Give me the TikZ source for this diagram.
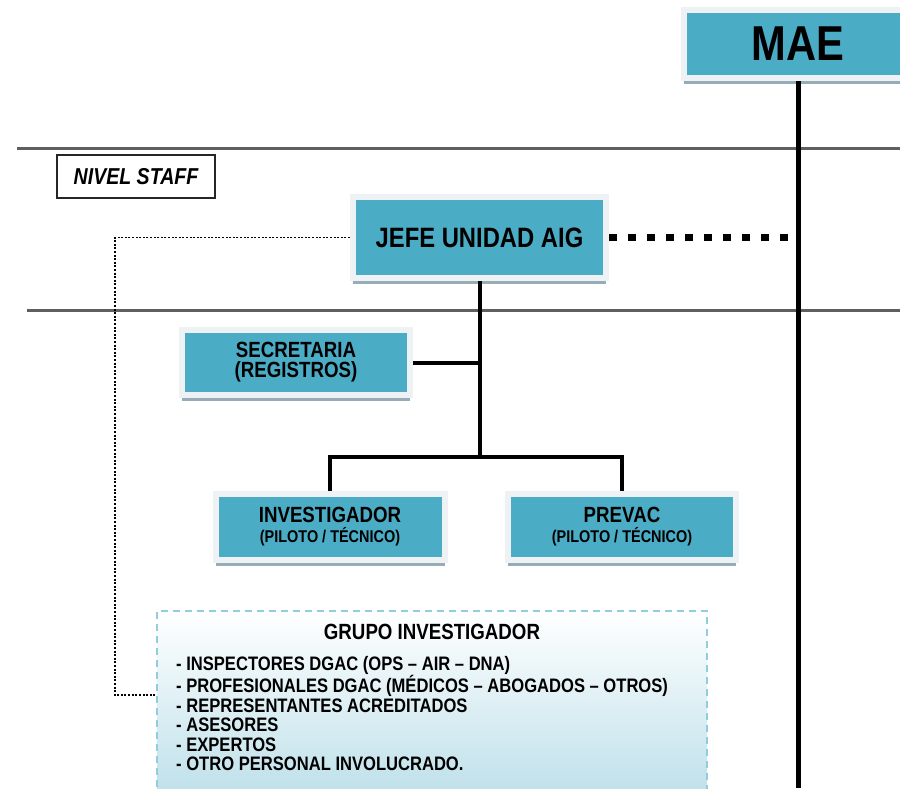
\documentclass[tikz,border=0pt]{standalone}
\usepackage{fontspec}
\setmainfont{Liberation Sans}[FakeStretch=0.85]
\usepackage{tikz}
\usetikzlibrary{shadows}

\definecolor{aigblue}{RGB}{75,172,198}
\definecolor{aigframe}{RGB}{238,242,244}
\definecolor{aigshadow}{RGB}{150,172,182}
\definecolor{grupoborde}{RGB}{146,205,222}
\definecolor{grupofondo}{RGB}{178,218,230}
\definecolor{nivelgris}{RGB}{95,95,95}

\begin{document}
\begin{tikzpicture}[x=1pt, y=-1pt,
    cargo/.style={fill=aigblue, draw=aigframe, line width=6pt, inner sep=0pt, align=center,
        drop shadow={shadow xshift=0pt, shadow yshift=-6pt, fill=aigshadow, opacity=1}},
    nivel/.style={draw=nivelgris, line width=3pt},
    mando/.style={line width=5pt},
    rama/.style={line width=4pt},
    asesoria/.style={line width=7pt, dash pattern=on 8pt off 11pt},
    staff/.style={line width=1.8pt, dash pattern=on 2pt off 1.6pt},
    lista/.style={align=left, inner sep=0pt, font=\fontsize{19.5}{19.5}\selectfont\bfseries}]
    \useasboundingbox (0,0) rectangle (900,788);
    % niveles
    \draw [nivel] (17,148) -- (900,148);
    \draw [nivel] (27,310) -- (900,310);
    \node [draw=black!85, line width=2pt, minimum width=158pt, minimum height=43pt, font=\fontsize{23}{24}\selectfont\bfseries\itshape] (nivelstaff) at (136,176.5) {NIVEL STAFF};
    % cargos
    \node [cargo, minimum width=228pt, minimum height=68pt, font=\fontsize{49}{50}\selectfont\bfseries] (mae) at (798,44) {MAE};
    \node [cargo, minimum width=253pt, minimum height=81pt, font=\fontsize{28}{30}\selectfont\bfseries] (jefe) at (479.5,237.5) {JEFE UNIDAD AIG};
    \node [cargo, minimum width=228pt, minimum height=65pt, font=\fontsize{22}{20}\selectfont\bfseries] (sec) at (296,362.5) {SECRETARIA\\(REGISTROS)};
    \node [cargo, minimum width=229pt, minimum height=66pt, font=\fontsize{22}{20}\selectfont\bfseries] (inv) at (330,527) {INVESTIGADOR\\{\fontsize{17}{20}\selectfont (PILOTO / TÉCNICO)}};
    \node [cargo, minimum width=228pt, minimum height=66pt, font=\fontsize{22}{20}\selectfont\bfseries] (prev) at (622,527) {PREVAC\\{\fontsize{17}{20}\selectfont (PILOTO / TÉCNICO)}};
    % grupo investigador
    \node [draw=grupoborde, line width=1.8pt, dash pattern=on 7pt off 5pt, top color=white, bottom color=grupofondo, minimum width=550pt, minimum height=219pt] (grupo) at (432,720.5) {};
    \node [font=\fontsize{22}{24}\selectfont\bfseries] (grupotit) at (432,632) {GRUPO INVESTIGADOR};
    \node [lista, anchor=north west] (grupolista) at (176,656) {- INSPECTORES DGAC (OPS – AIR – DNA)\\- PROFESIONALES DGAC (MÉDICOS – ABOGADOS – OTROS)\\- REPRESENTANTES ACREDITADOS\\- ASESORES\\- EXPERTOS\\- OTRO PERSONAL INVOLUCRADO.};
    % lineas
    \coordinate (maepie) at (798,788);
    \coordinate (horquilla) at (479.5,457);
    \coordinate (staffcodo) at (115,695);
    \draw [mando] (mae.south) -- (maepie);
    \draw [asesoria] (jefe.east) -- (jefe.east -| maepie);
    \draw [staff] (jefe.west) -| (staffcodo) -- (staffcodo -| grupo.west);
    \draw [rama] (jefe.south) -- (horquilla);
    \draw [rama] (sec.east) -- (sec.east -| horquilla);
    \draw [rama] (inv.north) |- (horquilla) -| (prev.north);
\end{tikzpicture}
\end{document}
